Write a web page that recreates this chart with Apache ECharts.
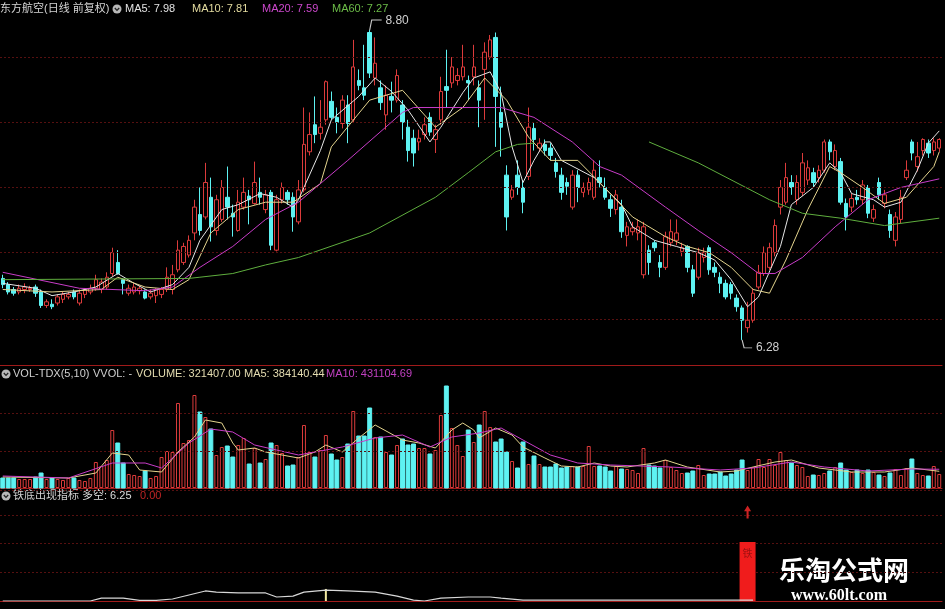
<!DOCTYPE html>
<html><head><meta charset="utf-8">
<script src="https://cdn.jsdelivr.net/npm/echarts/dist/echarts.min.js"></script>
<style>html,body{margin:0;padding:0;background:#000;overflow:hidden}#c{width:945px;height:609px;}</style>
</head><body><div id="c"></div><script>
// [open, close, low, high]
const candles = [
[6.78,6.73,6.70,6.81],[6.73,6.67,6.65,6.75],[6.69,6.66,6.64,6.71],[6.67,6.70,6.65,6.73],[6.69,6.71,6.66,6.74],
[6.69,6.70,6.67,6.72],[6.71,6.66,6.63,6.73],[6.67,6.56,6.54,6.69],[6.56,6.59,6.54,6.61],[6.57,6.55,6.53,6.61],
[6.58,6.63,6.56,6.65],[6.61,6.65,6.58,6.67],[6.63,6.65,6.61,6.67],[6.67,6.63,6.61,6.69],[6.58,6.66,6.56,6.69],
[6.65,6.69,6.62,6.70],[6.67,6.70,6.65,6.73],[6.70,6.77,6.68,6.81],[6.69,6.75,6.66,6.78],[6.71,6.79,6.69,6.83],
[6.82,6.99,6.80,7.03],[6.91,6.82,6.81,7.01],[6.77,6.74,6.65,6.78],[6.66,6.70,6.64,6.73],[6.67,6.71,6.65,6.74],
[6.68,6.70,6.65,6.72],[6.67,6.62,6.61,6.69],[6.63,6.66,6.61,6.69],[6.64,6.69,6.58,6.70],[6.65,6.69,6.62,6.71],
[6.69,6.79,6.67,6.87],[6.69,6.81,6.65,6.89],[6.85,7.01,6.83,7.09],[6.91,7.04,6.89,7.07],[6.97,7.09,6.95,7.13],
[7.15,7.36,7.09,7.42],[7.30,7.17,7.13,7.52],[7.28,7.56,7.26,7.72],[7.44,7.20,7.08,7.60],[7.17,7.42,7.13,7.46],
[7.26,7.52,7.24,7.58],[7.44,7.36,7.26,7.69],[7.31,7.28,7.12,7.38],[7.17,7.40,7.16,7.50],[7.36,7.48,7.34,7.60],
[7.45,7.42,7.22,7.50],[7.39,7.56,7.38,7.73],[7.48,7.44,7.38,7.60],[7.34,7.46,7.31,7.50],[7.48,7.05,7.01,7.50],
[7.01,7.42,7.00,7.46],[7.42,7.52,7.39,7.56],[7.48,7.42,7.38,7.50],[7.44,7.28,7.16,7.48],[7.24,7.50,7.22,7.58],
[7.50,7.87,7.48,8.17],[7.81,7.95,7.78,8.13],[8.03,7.95,7.88,8.26],[7.96,8.01,7.91,8.23],[8.07,8.38,8.03,8.39],
[8.22,8.09,8.07,8.30],[8.09,8.05,7.96,8.17],[8.04,8.23,8.00,8.27],[8.19,8.04,7.88,8.27],[8.07,8.50,8.05,8.72],
[8.39,8.35,8.31,8.48],[8.33,8.27,8.23,8.68],[8.78,8.45,8.41,8.80],[8.41,8.53,8.35,8.74],[8.33,8.21,8.15,8.39],
[8.11,8.27,7.99,8.35],[8.26,8.23,8.13,8.38],[8.23,8.43,8.21,8.48],[8.19,8.05,7.91,8.23],[8.01,7.82,7.73,8.07],
[7.92,7.80,7.69,7.99],[7.89,7.92,7.82,7.99],[7.95,8.03,7.91,8.09],[8.09,7.97,7.94,8.13],[7.91,7.99,7.80,8.03],
[8.07,8.30,8.03,8.42],[8.34,8.31,8.17,8.64],[8.37,8.50,8.33,8.58],[8.39,8.43,8.35,8.49],[8.42,8.50,8.39,8.68],
[8.39,8.37,8.23,8.43],[8.42,8.50,8.35,8.68],[8.33,8.23,8.01,8.39],[8.48,8.62,8.07,8.70],[8.58,8.72,8.56,8.76],
[8.74,8.26,7.85,8.78],[8.13,8.01,7.77,8.34],[7.62,7.28,7.17,7.70],[7.44,7.50,7.42,7.54],[7.62,7.52,7.46,7.74],
[7.52,7.40,7.31,7.58],[7.61,8.01,7.58,8.17],[8.00,7.91,7.82,8.05],[7.84,7.88,7.81,7.92],[7.87,7.82,7.78,7.91],
[7.84,7.78,7.74,7.88],[7.72,7.65,7.60,7.76],[7.62,7.48,7.42,7.68],[7.56,7.53,7.46,7.60],[7.36,7.62,7.34,7.66],
[7.62,7.52,7.40,7.66],[7.48,7.52,7.44,7.56],[7.50,7.56,7.46,7.60],[7.44,7.66,7.42,7.74],[7.60,7.56,7.52,7.74],
[7.52,7.44,7.42,7.60],[7.42,7.35,7.28,7.46],[7.34,7.46,7.30,7.50],[7.36,7.16,7.11,7.42],[7.13,7.20,7.04,7.24],
[7.16,7.19,7.13,7.24],[7.15,7.20,7.09,7.26],[6.81,7.20,6.78,7.24],[7.01,6.91,6.81,7.05],[7.07,7.03,7.00,7.09],
[6.91,6.87,6.79,6.97],[6.87,7.12,6.85,7.16],[7.07,7.16,7.04,7.26],[7.09,7.15,7.05,7.26],[7.00,7.03,6.96,7.07],
[7.04,6.87,6.83,7.05],[6.85,6.66,6.63,6.89],[6.79,6.99,6.77,7.03],[6.95,6.99,6.91,7.03],[7.03,6.85,6.81,7.05],
[6.87,6.83,6.79,6.91],[6.79,6.74,6.66,6.83],[6.74,6.63,6.61,6.77],[6.73,6.66,6.61,6.75],[6.62,6.55,6.51,6.65],
[6.54,6.44,6.28,6.56],[6.38,6.44,6.34,6.59],[6.44,6.66,6.42,6.70],[6.71,6.83,6.69,6.89],[6.82,6.99,6.80,7.04],
[6.87,7.03,6.85,7.07],[6.99,7.21,6.96,7.26],[7.36,7.52,7.30,7.58],[7.40,7.60,7.38,7.72],[7.56,7.52,7.46,7.62],
[7.42,7.56,7.38,7.62],[7.48,7.72,7.45,7.80],[7.58,7.68,7.54,7.74],[7.64,7.56,7.52,7.68],[7.60,7.66,7.56,7.70],
[7.66,7.89,7.64,7.91],[7.89,7.81,7.74,7.91],[7.69,7.82,7.66,7.87],[7.73,7.40,7.38,7.76],[7.39,7.28,7.17,7.43],
[7.36,7.43,7.32,7.47],[7.44,7.42,7.38,7.50],[7.42,7.54,7.38,7.58],[7.52,7.31,7.27,7.54],[7.27,7.34,7.24,7.38],
[7.56,7.46,7.42,7.60],[7.39,7.46,7.35,7.50],[7.30,7.17,7.11,7.34],[7.09,7.28,7.04,7.32],[7.26,7.44,7.23,7.50],
[7.60,7.66,7.58,7.74],[7.89,7.80,7.74,7.91],[7.69,7.77,7.65,7.89],[7.82,7.91,7.78,7.92],[7.88,7.80,7.76,7.91],
[7.82,7.89,7.78,7.92],[7.84,7.91,7.81,7.92]
];
const volumes = [
230000,230000,230000,207000,207000,207000,253000,345000,207000,230000,
207000,184000,230000,230000,184000,161000,230000,598000,506000,644000,
1334000,1035000,575000,322000,299000,276000,391000,230000,276000,713000,
851000,828000,1955000,1035000,1104000,2139000,1748000,1633000,1357000,759000,
943000,966000,713000,989000,1150000,552000,920000,575000,667000,1035000,
989000,805000,506000,529000,713000,1449000,828000,713000,874000,1219000,
782000,644000,713000,1012000,1771000,1196000,1196000,1840000,1173000,1173000,
828000,759000,989000,1127000,989000,1012000,920000,920000,782000,874000,
1679000,2346000,1380000,989000,736000,1334000,1058000,1449000,1771000,1403000,
1058000,1127000,828000,621000,460000,1058000,552000,736000,552000,483000,
483000,552000,460000,483000,506000,483000,506000,966000,506000,506000,
483000,391000,506000,437000,437000,414000,345000,920000,529000,506000,
460000,644000,483000,414000,345000,345000,391000,529000,299000,322000,
322000,368000,276000,322000,414000,644000,414000,483000,667000,483000,
667000,529000,828000,644000,575000,529000,483000,276000,299000,299000,
345000,391000,483000,575000,414000,368000,414000,345000,414000,368000,
299000,276000,345000,437000,299000,460000,667000,345000,299000,276000,
506000,321407
];
// moving-average lines: [candle index, value]
const ma5Line = [[0,6.74],[6,6.70],[9,6.64],[13,6.67],[17,6.71],[21,6.82],[24,6.74],[27,6.67],[31,6.73],[34,6.87],[36,7.09],[40,7.34],[43,7.38],[47,7.47],[50,7.44],[53,7.36],[54,7.42],[58,7.82],[60,8.07],[65,8.26],[68,8.41],[71,8.30],[74,8.15],[78,7.89],[80,8.01],[84,8.29],[86,8.41],[89,8.46],[91,8.29],[93,7.85],[95,7.56],[97,7.74],[99,7.89],[100,7.89],[102,7.74],[108,7.60],[113,7.38],[115,7.20],[119,7.09],[123,7.04],[127,6.99],[130,6.93],[133,6.77],[136,6.55],[138,6.63],[142,7.04],[144,7.38],[148,7.52],[151,7.72],[153,7.64],[155,7.47],[159,7.42],[161,7.36],[164,7.40],[167,7.66],[169,7.88],[171,7.98]];
const ma10Line = [[0,6.69],[9,6.67],[18,6.69],[21,6.79],[26,6.71],[31,6.69],[34,6.77],[38,7.15],[43,7.34],[48,7.40],[53,7.40],[58,7.55],[60,7.85],[67,8.23],[73,8.31],[79,8.01],[84,8.17],[88,8.41],[92,8.23],[96,7.93],[100,7.74],[105,7.74],[109,7.56],[115,7.28],[121,7.12],[125,7.04],[129,6.99],[133,6.87],[137,6.69],[140,6.66],[143,6.93],[147,7.34],[151,7.69],[153,7.64],[157,7.52],[161,7.39],[165,7.44],[170,7.69],[171,7.81]];
const ma20Line = [[0,6.83],[14,6.70],[26,6.68],[31,6.71],[36,6.87],[42,7.04],[48,7.26],[54,7.40],[63,7.74],[73,8.13],[75,8.17],[91,8.17],[97,8.09],[104,7.89],[109,7.69],[113,7.62],[121,7.36],[127,7.17],[133,6.99],[138,6.82],[141,6.82],[146,6.95],[152,7.20],[158,7.42],[164,7.52],[171,7.59]];
const ma60Line = [[0,6.77],[34,6.78],[36,6.79],[42,6.82],[48,6.89],[54,6.95],[67,7.15],[79,7.44],[85,7.64],[90,7.81],[94,7.87],[97,7.88],[108,null],[118,7.89],[127,7.72],[140,7.42],[146,7.31],[153,7.27],[161,7.21],[171,7.27]];
const volMa5Line = [[0,253000],[12,230000],[17,345000],[20,805000],[23,759000],[25,414000],[29,368000],[32,828000],[35,1173000],[37,1564000],[40,1495000],[42,1035000],[43,874000],[46,920000],[48,828000],[51,759000],[54,690000],[57,828000],[59,989000],[62,828000],[65,1150000],[68,1449000],[73,1104000],[76,1035000],[79,920000],[82,1334000],[84,1495000],[86,1334000],[87,1150000],[90,1380000],[93,1219000],[95,943000],[99,690000],[102,506000],[105,483000],[108,575000],[111,506000],[114,483000],[119,575000],[121,644000],[125,483000],[131,368000],[134,391000],[137,483000],[141,598000],[144,644000],[149,460000],[155,368000],[161,368000],[166,460000],[171,384140]];
const volMa10Line = [[0,276000],[12,230000],[20,575000],[26,575000],[29,460000],[34,1035000],[38,1357000],[42,1288000],[46,989000],[50,874000],[54,759000],[57,828000],[62,943000],[68,1150000],[73,1219000],[78,943000],[82,1173000],[87,1265000],[91,1380000],[95,1104000],[100,759000],[105,575000],[111,529000],[122,483000],[131,414000],[137,460000],[144,598000],[150,483000],[158,391000],[166,437000],[171,431105]];
// 铁底出现指标 panel
const duoKongLine = [[0,0],[16,0],[18,1.0],[22,1.0],[25,0.2],[28,0.2],[31,0.7],[34,2.1],[37,3.5],[39,3.1],[43,2.8],[48,2.8],[50,1.4],[53,1.7],[55,3.1],[59,3.8],[63,3.5],[68,3.1],[72,1.7],[75,0.3],[77,0],[80,1.0],[85,1.4],[89,1.4],[91,1.0],[95,0.3],[110,0.3],[125,0.3],[137,0.3]];
const yellowStick = [[59,4.2]];
const signalBar = [[136,20.6]];
const signalArrow = [[136,31]];
// horizontal dashed reference levels
const priceLevels = [8.58,8.05,7.52,6.99,6.45];
const volumeLevels = [1725000,851000];

const categories = candles.map((_, i) => String(i + 1));
const RED = '#dc3b3b', CYAN = '#5ef2f2', GRIDC = '#561010', AXISC = '#a01a1a';

const volData = volumes.map((v, i) => {
  const up = candles[i][1] >= candles[i][0];
  return { value: v, itemStyle: up ? { color: '#000', borderColor: RED, borderWidth: 1 } : { color: CYAN, borderColor: CYAN } };
});

const CN = '"Liberation Sans","Noto Sans CJK SC",sans-serif';
function xa(g, showLine) {
  return { type: 'category', gridIndex: g, data: categories, boundaryGap: true,
    axisLabel: { show: false }, axisTick: { show: false }, splitLine: { show: false },
    axisLine: { show: showLine, lineStyle: { color: AXISC, width: 1 } } };
}
function icon(x, y) {
  return [{ type: 'circle', shape: { cx: x, cy: y, r: 4.5 }, style: { fill: '#b8b8b8' } },
          { type: 'polyline', shape: { points: [[x - 2.2, y - 1], [x, y + 1.4], [x + 2.2, y - 1]] }, style: { stroke: '#222', lineWidth: 1.3, fill: null } }];
}
function txt(x, y, s, color, size, weight) {
  return { type: 'text', x: x, y: y, style: { text: s, fill: color, font: (weight || 'normal') + ' ' + (size || 11) + 'px ' + CN, textVerticalAlign: 'middle' } };
}
const lineCommon = { type: 'line', symbol: 'none', silent: true, animation: false };

const option = {
  backgroundColor: '#000',
  animation: false,
  grid: [
    { left: 0, right: 3, top: 18, height: 347 },
    { left: 0, right: 3, top: 367, height: 121 },
    { left: 0, right: 3, top: 490, height: 111 }
  ],
  xAxis: [xa(0, true), xa(1, true), xa(2, true), xa(2, false)],
  yAxis: [
    { type: 'value', gridIndex: 0, min: 6.076, max: 8.898, show: false, splitLine: { show: false } },
    { type: 'value', gridIndex: 1, min: 0, max: 2783000, show: false, splitLine: { show: false } },
    { type: 'value', gridIndex: 2, min: 0, max: 38.7, interval: 10, axisLabel: { show: false }, axisTick: { show: false }, axisLine: { show: false },
      splitLine: { show: true, lineStyle: { color: GRIDC, type: [2, 2], width: 1 } } }
  ],
  series: [
    { type: 'candlestick', xAxisIndex: 0, yAxisIndex: 0, data: candles, barWidth: '72%',
      itemStyle: { color: '#000', color0: CYAN, borderColor: RED, borderColor0: CYAN, borderWidth: 1 },
      markLine: { silent: true, symbol: ['none', 'none'], label: { show: false },
        lineStyle: { color: GRIDC, type: [2, 2], width: 1 }, data: priceLevels.map(v => ({ yAxis: v })) },
      markPoint: { silent: true, data: [
        { type: 'max', valueDim: 'highest', symbol: 'path://M0,10 L2,0 L12,0', symbolSize: [12, 10], symbolOffset: [6, -5],
          itemStyle: { color: 'none', borderColor: '#c8c8c8', borderWidth: 1 },
          label: { show: true, position: 'right', distance: 1, offset: [0, -4], color: '#d0d0d0', fontSize: 12, fontFamily: 'Liberation Sans', formatter: p => p.value.toFixed(2) } },
        { type: 'min', valueDim: 'lowest', symbol: 'path://M0,0 L2,8 L10,8', symbolSize: [10, 8], symbolOffset: [5, 4],
          itemStyle: { color: 'none', borderColor: '#c8c8c8', borderWidth: 1 },
          label: { show: true, position: 'right', distance: 1, offset: [0, 4], color: '#d0d0d0', fontSize: 12, fontFamily: 'Liberation Sans', formatter: p => p.value.toFixed(2) } }
      ] } },
    Object.assign({}, lineCommon, { xAxisIndex: 0, yAxisIndex: 0, data: ma5Line, lineStyle: { color: '#e6e6e6', width: 1 } }),
    Object.assign({}, lineCommon, { xAxisIndex: 0, yAxisIndex: 0, data: ma10Line, lineStyle: { color: '#e4d48e', width: 1 } }),
    Object.assign({}, lineCommon, { xAxisIndex: 0, yAxisIndex: 0, data: ma20Line, lineStyle: { color: '#c83cc8', width: 1 } }),
    Object.assign({}, lineCommon, { xAxisIndex: 0, yAxisIndex: 0, data: ma60Line, connectNulls: false, lineStyle: { color: '#5fae3e', width: 1 } }),
    { type: 'bar', xAxisIndex: 1, yAxisIndex: 1, data: volData, barWidth: '72%', silent: true,
      markLine: { silent: true, symbol: ['none', 'none'], label: { show: false },
        lineStyle: { color: GRIDC, type: [2, 2], width: 1 }, data: volumeLevels.map(v => ({ yAxis: v })) } },
    Object.assign({}, lineCommon, { xAxisIndex: 1, yAxisIndex: 1, data: volMa5Line, lineStyle: { color: '#e4d48e', width: 1 } }),
    Object.assign({}, lineCommon, { xAxisIndex: 1, yAxisIndex: 1, data: volMa10Line, lineStyle: { color: '#c83cc8', width: 1 } }),
    Object.assign({}, lineCommon, { xAxisIndex: 2, yAxisIndex: 2, data: duoKongLine, lineStyle: { color: '#d8d8d8', width: 1.2 } }),
    { type: 'bar', xAxisIndex: 2, yAxisIndex: 2, data: yellowStick, barWidth: 2, silent: true, itemStyle: { color: '#f0e8a0' } },
    { type: 'bar', xAxisIndex: 3, yAxisIndex: 2, data: signalBar, barWidth: 16, silent: true, itemStyle: { color: '#f01c1c' },
      label: { show: true, position: 'insideTop', distance: 6, formatter: '铁', color: '#a01010', fontSize: 10, fontFamily: '"Noto Sans CJK SC"' } },
    { type: 'scatter', xAxisIndex: 3, yAxisIndex: 2, data: signalArrow, silent: true,
      symbol: 'path://M5,0 L10,6 L6.5,6 L6.5,14 L3.5,14 L3.5,6 L0,6 Z', symbolSize: [7, 13], itemStyle: { color: '#ff2a2a' } }
  ],
  graphic: [].concat(
    [txt(0, 9, '东方航空(日线 前复权)', '#d4d4d4')],
    icon(117, 9),
    [txt(125, 9, 'MA5: 7.98', '#e2e2e2'),
     txt(192, 9, 'MA10: 7.81', '#e4dca0'),
     txt(262, 9, 'MA20: 7.59', '#cc48cc'),
     txt(332, 9, 'MA60: 7.27', '#6cbc48')],
    icon(6, 374),
    [txt(13, 374, 'VOL-TDX(5,10)', '#cfcfcf'),
     txt(93, 374, 'VVOL: -', '#cfcfcf'),
     txt(136, 374, 'VOLUME: 321407.00', '#e4dcb0'),
     txt(244, 374, 'MA5: 384140.44', '#e4dcb0'),
     txt(326, 374, 'MA10: 431104.69', '#c040c0')],
    icon(6, 496),
    [txt(13, 496, '铁底出现指标', '#cfcfcf'),
     txt(82, 496, '多空: 6.25', '#dcdcdc'),
     txt(140, 496, '0.00', '#c02424')],
    [{ type: 'rect', shape: { x: 757, y: 548, width: 188, height: 61 }, style: { fill: '#000' } },
     { type: 'text', x: 844, y: 570, style: { text: '乐淘公式网', fill: '#ffffff', font: 'bold 26px "Noto Sans CJK SC",sans-serif', textAlign: 'center', textVerticalAlign: 'middle' } },
     { type: 'text', x: 839, y: 596, style: { text: 'www.60lt.com', fill: '#ffffff', font: 'bold 16px "Liberation Serif","DejaVu Serif",serif', textAlign: 'center', textVerticalAlign: 'middle' } }]
  )
};
const chart = echarts.init(document.getElementById('c'), null, { renderer: 'canvas' });
chart.setOption(option);
</script></body></html>
